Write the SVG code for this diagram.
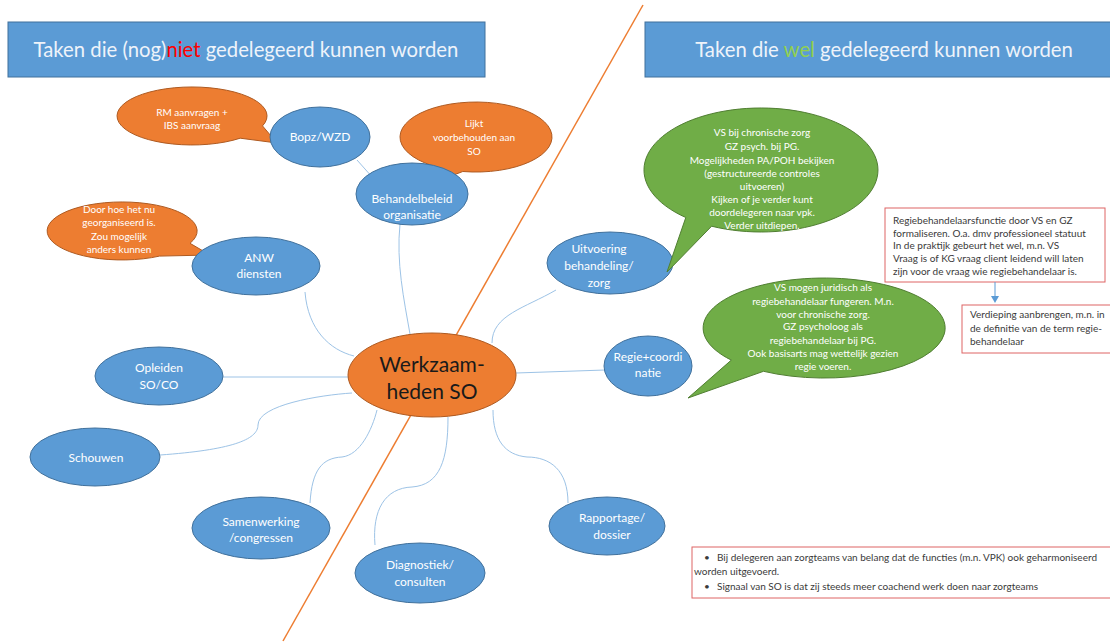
<svg xmlns="http://www.w3.org/2000/svg" width="1110" height="643" viewBox="0 0 1110 643">
<defs>
<style>
.hdr{fill:#5B9BD5;stroke:#41719C;stroke-width:1}
.hdrt{font-family:Lato,"Liberation Sans",sans-serif;font-size:20.3px;fill:#EEF3FA;text-anchor:middle}
.blue{fill:#5B9BD5;stroke:#41719C;stroke-width:1}
.orange{fill:#ED7D31;stroke:#AE5A21;stroke-width:1}
.green{fill:#70AD47;stroke:#507E32;stroke-width:1}
.nt{font-family:Lato,"Liberation Sans",sans-serif;font-size:12px;fill:#FFFFFF;text-anchor:middle}
.bt{font-family:Lato,"Liberation Sans",sans-serif;font-size:10px;fill:#FFFFFF;text-anchor:middle}
.ct{font-family:Lato,"Liberation Sans",sans-serif;font-size:21px;fill:#1A1A1A;text-anchor:middle}
.box{fill:#FFFFFF;stroke:#DE6464;stroke-width:1}
.xt{font-family:Lato,"Liberation Sans",sans-serif;font-size:10px;fill:#3A3A3A}
.con{fill:none;stroke:#9DC3E6;stroke-width:1}
</style>
</defs>
<rect width="1110" height="643" fill="#FFFFFF"/>
<line x1="643" y1="5" x2="283" y2="641" stroke="#ED7D31" stroke-width="1.5"/>
<g id="header-left">
<rect class="hdr" x="8" y="22" width="477" height="55"/>
<text class="hdrt" x="246" y="57">Taken die (nog)<tspan fill="#FF0000">niet</tspan> gedelegeerd kunnen worden</text>
</g>
<g id="header-right">
<rect class="hdr" x="645" y="22" width="470" height="55"/>
<text class="hdrt" x="884" y="57">Taken die <tspan fill="#92D050">wel</tspan> gedelegeerd kunnen worden</text>
</g>
<g id="connectors">
<path class="con" d="M 357 160 L 381 187"/>
<path class="con" d="M 400 224 C 396 262, 404 300, 410 334"/>
<path class="con" d="M 305 292 C 308 330, 330 350, 354 356"/>
<path class="con" d="M 223 377 L 349 377"/>
<path class="con" d="M 160 455 C 230 450, 258 440, 258 425 C 258 405, 320 395, 352 393"/>
<path class="con" d="M 310 503 C 312 470, 322 458, 342 457 C 360 455, 372 430, 377 410"/>
<path class="con" d="M 375 545 C 372 510, 385 488, 412 487 C 440 485, 448 460, 448 417"/>
<path class="con" d="M 568 503 C 568 470, 550 457, 527 457 C 505 455, 493 440, 493 410"/>
<path class="con" d="M 516 373 L 605 370"/>
<path class="con" d="M 492 343 C 492 315, 525 308, 556 290"/>
</g>
<g id="bubble-rm">
<path class="orange" d="M 240.2 138.2 A 75 29 0 1 1 262.5 125.9 L 277 143 Z"/>
<text class="bt" x="192" y="116">RM aanvragen +</text>
<text class="bt" x="192" y="129">IBS aanvraag</text>
</g>
<g id="bubble-lijkt">
<path class="orange" d="M 432.4 165.7 A 76 35 0 1 1 462.8 171.5 L 422 187 Z"/>
<text class="bt" x="474" y="127">Lijkt</text>
<text class="bt" x="474" y="141">voorbehouden aan</text>
<text class="bt" x="474" y="155">SO</text>
</g>
<g id="bubble-door">
<path class="orange" d="M 159.5 256.1 A 75 29 0 1 1 190 243.3 L 210 255 Z"/>
<text class="bt" x="119" y="213">Door hoe het nu</text>
<text class="bt" x="119" y="226">georganiseerd is.</text>
<text class="bt" x="119" y="240">Zou mogelijk</text>
<text class="bt" x="119" y="253">anders kunnen</text>
</g>
<g id="node-bopz">
<ellipse class="blue" cx="320" cy="137" rx="50" ry="30"/>
<text class="nt" x="320" y="141">Bopz/WZD</text>
</g>
<g id="node-behandelbeleid">
<ellipse class="blue" cx="412" cy="194" rx="56" ry="31"/>
<text class="nt" x="412" y="203">Behandelbeleid</text>
<text class="nt" x="412" y="219">organisatie</text>
</g>
<g id="node-anw">
<ellipse class="blue" cx="256" cy="266" rx="64" ry="29"/>
<text class="nt" x="259" y="262">ANW</text>
<text class="nt" x="259" y="278">diensten</text>
</g>
<g id="node-opleiden">
<ellipse class="blue" cx="159" cy="376" rx="64" ry="29"/>
<text class="nt" x="159" y="372">Opleiden</text>
<text class="nt" x="159" y="389">SO/CO</text>
</g>
<g id="node-schouwen">
<ellipse class="blue" cx="95" cy="457" rx="65" ry="29"/>
<text class="nt" x="96" y="462">Schouwen</text>
</g>
<g id="node-samenwerking">
<ellipse class="blue" cx="261" cy="528" rx="69" ry="31"/>
<text class="nt" x="261" y="526">Samenwerking</text>
<text class="nt" x="261" y="542">/congressen</text>
</g>
<g id="node-diagnostiek">
<ellipse class="blue" cx="420" cy="573" rx="65" ry="30"/>
<text class="nt" x="420" y="569">Diagnostiek/</text>
<text class="nt" x="420" y="586">consulten</text>
</g>
<g id="node-rapportage">
<ellipse class="blue" cx="607" cy="526" rx="58" ry="29"/>
<text class="nt" x="612" y="522">Rapportage/</text>
<text class="nt" x="612" y="539">dossier</text>
</g>
<g id="node-regie">
<ellipse class="blue" cx="648" cy="366" rx="44" ry="30"/>
<text class="nt" x="648" y="361">Regie+coordi</text>
<text class="nt" x="648" y="377">natie</text>
</g>
<g id="node-uitvoering">
<ellipse class="blue" cx="610" cy="263" rx="63" ry="31"/>
<text class="nt" x="599" y="253">Uitvoering</text>
<text class="nt" x="599" y="270">behandeling/</text>
<text class="nt" x="599" y="287">zorg</text>
</g>
<g id="node-central">
<ellipse cx="432" cy="375" rx="84" ry="42" fill="#ED7D31" stroke="#AE5A21" stroke-width="1"/>
<text class="ct" x="432" y="372">Werkzaam-</text>
<text class="ct" x="432" y="399">heden SO</text>
</g>
<g id="bubble-green-1">
<path class="green" d="M 685.8 217.5 A 117 62 0 1 1 711.6 226.2 L 667 272 Z"/>
<text class="bt" x="762" y="136">VS bij chronische zorg</text>
<text class="bt" x="762" y="150">GZ psych. bij PG.</text>
<text class="bt" x="762" y="164">Mogelijkheden PA/POH bekijken</text>
<text class="bt" x="762" y="177">(gestructureerde controles</text>
<text class="bt" x="762" y="190">uitvoeren)</text>
<text class="bt" x="762" y="203">Kijken of je verder kunt</text>
<text class="bt" x="762" y="216">doordelegeren naar vpk.</text>
<text class="bt" x="762" y="229">Verder uitdiepen.</text>
</g>
<g id="bubble-green-2">
<path class="green" d="M 731.3 360.1 A 121 50 0 1 1 763.5 371.3 L 688 398 Z"/>
<text class="bt" x="823" y="291">VS mogen juridisch als</text>
<text class="bt" x="823" y="305">regiebehandelaar fungeren. M.n.</text>
<text class="bt" x="823" y="318">voor chronische zorg.</text>
<text class="bt" x="823" y="330">GZ psycholoog als</text>
<text class="bt" x="823" y="344">regiebehandelaar bij PG.</text>
<text class="bt" x="823" y="357">Ook basisarts mag wettelijk gezien</text>
<text class="bt" x="823" y="370">regie voeren.</text>
</g>
<g id="note-regiebehandelaar">
<rect class="box" x="885" y="208" width="220" height="74"/>
<text class="xt" x="893" y="224">Regiebehandelaarsfunctie door VS en GZ</text>
<text class="xt" x="893" y="237">formaliseren. O.a. dmv professioneel statuut</text>
<text class="xt" x="893" y="249">In de praktijk gebeurt het wel, m.n. VS</text>
<text class="xt" x="893" y="262">Vraag is of KG vraag client leidend will laten</text>
<text class="xt" x="893" y="275">zijn voor de vraag wie regiebehandelaar is.</text>
</g>
<g id="arrow">
<line x1="995" y1="282" x2="995" y2="297" stroke="#5B9BD5" stroke-width="1"/>
<polygon points="991,296 999,296 995,303" fill="#5B9BD5"/>
</g>
<g id="note-verdieping">
<rect class="box" x="962" y="305" width="152" height="48"/>
<text class="xt" x="970" y="318">Verdieping aanbrengen, m.n. in</text>
<text class="xt" x="970" y="332">de definitie van de term regie-</text>
<text class="xt" x="970" y="345">behandelaar</text>
</g>
<g id="note-bottom">
<rect class="box" x="692" y="547" width="422" height="51"/>
<text class="xt" x="704" y="561">•</text>
<text class="xt" x="717" y="561">Bij delegeren aan zorgteams van belang dat de functies (m.n. VPK) ook geharmoniseerd</text>
<text class="xt" x="694" y="575">worden uitgevoerd.</text>
<text class="xt" x="704" y="590">•</text>
<text class="xt" x="717" y="590">Signaal van SO is dat zij steeds meer coachend werk doen naar zorgteams</text>
</g>
</svg>
